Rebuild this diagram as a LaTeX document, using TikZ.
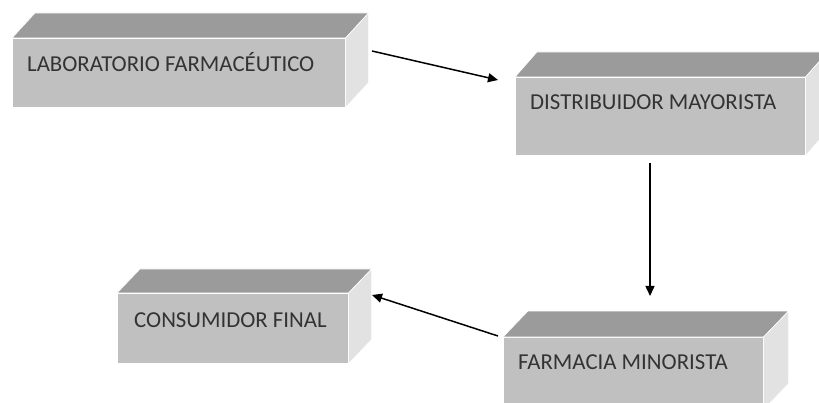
\documentclass[tikz,border=0pt]{standalone}
\usepackage{fontspec}
\setmainfont{Carlito}
\usetikzlibrary{arrows.meta,calc}
\definecolor{frontc}{HTML}{C0C0C0}
\definecolor{topc}{HTML}{9B9B9B}
\definecolor{sidec}{HTML}{E2E2E2}
\definecolor{txtc}{HTML}{333333}
\tikzset{
  front/.style={fill=frontc, draw=white, line width=0.6pt, inner sep=0pt, anchor=north west},
  lbl/.style={anchor=west, inner sep=0pt, text=txtc, font=\fontsize{22.8}{26}\selectfont},
  conn/.style={draw=black, line width=1.5pt, -{Triangle[length=10pt,width=9pt]}}
}
% #1 name, #2 x, #3 y, #4 width, #5 height, #6 dx, #7 dy
\newcommand\prismbox[7]{%
  \node[front, minimum width=#4pt, minimum height=#5pt] (#1) at (#2,#3) {};
  \fill[topc,draw=white,line width=0.6pt] (#1.north west) -- ++(#6,-#7) -- ([shift={(#6pt,#7pt)}]#1.north east) -- (#1.north east) -- cycle;
  \fill[sidec,draw=white,line width=0.6pt] (#1.north east) -- ([shift={(#6pt,#7pt)}]#1.north east) -- ([shift={(#6pt,#7pt)}]#1.south east) -- (#1.south east) -- cycle;
}
\begin{document}
\begin{tikzpicture}[x=1pt,y=-1pt]
\useasboundingbox (0,0) rectangle (819,403);
\clip (0,0) rectangle (819,403);
\prismbox{lab}{12}{38}{333}{69}{23}{25}
\prismbox{dist}{515}{77}{290}{78}{22}{25}
\prismbox{cons}{117}{293}{231}{70}{23}{24}
\prismbox{farm}{503}{337}{260}{72}{25}{26}
\node[lbl] (labt) at (27,62) {LABORATORIO FARMACÉUTICO};
\node[lbl] (distt) at (530,102) {DISTRIBUIDOR MAYORISTA};
\node[lbl] (const) at (134,320) {CONSUMIDOR FINAL};
\node[lbl] (farmt) at (518,362) {FARMACIA MINORISTA};
\coordinate (a1s) at (372,51);
\coordinate (a1e) at (498,80);
\coordinate (a2s) at (650,163);
\coordinate (a2e) at (650,296);
\coordinate (a3s) at (498,336);
\coordinate (a3e) at (372,295);
\draw[conn] (a1s) -- (a1e);
\draw[conn] (a2s) -- (a2e);
\draw[conn] (a3s) -- (a3e);
\end{tikzpicture}
\end{document}
